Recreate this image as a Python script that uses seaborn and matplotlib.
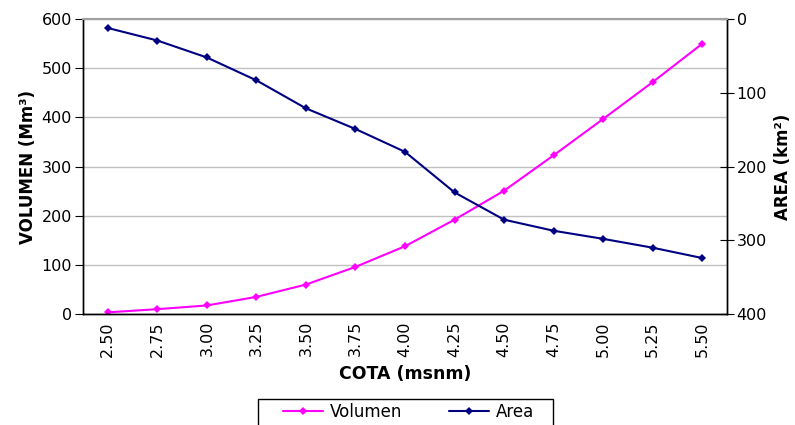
import numpy as np
import pandas as pd
import matplotlib
matplotlib.use("Agg")
import matplotlib.pyplot as plt
from matplotlib.patches import Rectangle
import seaborn as sns

# data
cota = ["2.50", "2.75", "3.00", "3.25", "3.50", "3.75", "4.00",
        "4.25", "4.50", "4.75", "5.00", "5.25", "5.50"]
volumen = [3.5, 10, 17.5, 35, 60, 96, 138, 192, 251, 323, 397, 472, 550]
area = [12, 29, 52, 83, 121, 149, 180, 235, 272, 287, 298, 310, 324]

sns.set_style("white")
plt.rcParams['font.family'] = ['DejaVu Sans']
plt.rcParams.update({"text.color": "black", "axes.labelcolor": "black",
                     "xtick.color": "black", "ytick.color": "black"})

df = pd.DataFrame({"pos": np.arange(len(cota)), "Volumen": volumen, "Area": area})

fig = plt.figure(figsize=(7.95, 4.25), dpi=100)
ax = fig.add_axes([0.1044, 0.261, 0.8101, 0.694])
ax2 = ax.twinx()

sns.lineplot(data=df, x="pos", y="Volumen", ax=ax, color="#FF00FF", marker="D",
             markersize=3.8, markeredgewidth=0, linewidth=1.5, label="Volumen", legend=False)
sns.lineplot(data=df, x="pos", y="Area", ax=ax2, color="#000080", marker="D",
             markersize=3.8, markeredgewidth=0, linewidth=1.5, label="Area", legend=False)

ax.set_xlim(-0.5, len(cota) - 0.5)
ax.set_ylim(0, 600)
ax.set_yticks(range(0, 601, 100))
ax2.set_ylim(400, 0)
ax2.set_yticks(range(0, 401, 100))

# excel style: ticks between categories, labels at centres
ax.set_xticks(np.arange(len(cota) + 1) - 0.5)
ax.set_xticklabels([])
ax.set_xticks(np.arange(len(cota)), minor=True)
ax.set_xticklabels(cota, minor=True, rotation=90, fontsize=11.5)
ax.tick_params(axis="x", which="minor", length=0, pad=5)
ax.tick_params(axis="x", which="major", direction="inout", length=10, width=1, color="#333333")

ax.yaxis.grid(True, color="#c0c0c0", linewidth=1)
ax.set_axisbelow(True)
ax.tick_params(axis="y", direction="out", length=6, labelsize=11.5, pad=2)
ax2.tick_params(axis="y", direction="inout", length=10, labelsize=11.5, pad=2)

for a in (ax, ax2):
    for s in a.spines.values():
        s.set_color("black")
        s.set_linewidth(1)
    a.spines["top"].set_color("#a0a0a0")
    a.spines["top"].set_linewidth(1.5)

ax.set_xlabel("COTA (msnm)", fontsize=12.5, fontweight="bold", labelpad=6)
ax.set_ylabel("VOLUMEN (Mm³)", fontsize=12, fontweight="bold", labelpad=3)
ax2.set_ylabel("AREA (km²)", fontsize=12, fontweight="bold", labelpad=5)

# legend without frame, box drawn separately (runs off the bottom like the original)
h1, l1 = ax.get_legend_handles_labels()
h2, l2 = ax2.get_legend_handles_labels()
fig.legend(h1 + h2, l1 + l2, loc="center left", bbox_to_anchor=(283 / 795, 1 - 412 / 425),
           borderaxespad=0, borderpad=0, ncol=2, fontsize=12, frameon=False,
           handlelength=2.4, columnspacing=2.8, handletextpad=0.4)
fig.patches.append(Rectangle((258 / 795, -0.05), 295 / 795, 0.05 + 1 - 399 / 425,
                             transform=fig.transFigure, fill=False,
                             edgecolor="black", linewidth=1))

fig.savefig("out.png", dpi=100)
